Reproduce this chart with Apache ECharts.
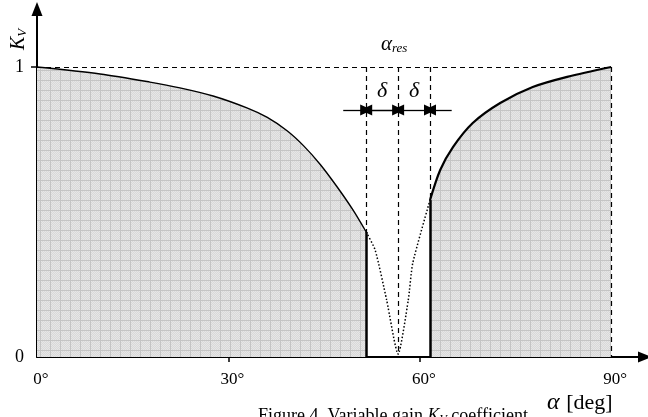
<!DOCTYPE html>
<html>
<head>
<meta charset="utf-8">
<script src="https://cdn.jsdelivr.net/npm/echarts@6/dist/echarts.min.js"></script>
<style>
  html, body { margin: 0; padding: 0; background: #fff; }
  #chart { width: 648px; height: 417px; }
</style>
</head>
<body>
<div id="chart"></div>
<script>
// values (alpha in degrees, Kv normalised)
const alphaRes = 56.6;
const delta = 5;
const inductiveCurve = [
  [0, 1.0], [9.9, 0.976], [17.7, 0.948], [22.4, 0.928], [27.6, 0.900],
  [32.9, 0.859], [36.1, 0.826], [39.2, 0.780], [41.8, 0.728], [44.4, 0.664],
  [47.0, 0.588], [49.5, 0.508], [51.6, 0.431]
];
const capacitiveCurve = [
  [61.6, 0.541], [63.2, 0.645], [65.2, 0.724], [68.3, 0.807],
  [72.6, 0.876], [77.7, 0.931], [83.1, 0.966], [90, 1.0]
];
const resonanceDip = [
  [51.6, 0.431], [53.0, 0.369], [54.8, 0.197], [56.6, 0.01],
  [58.2, 0.197], [58.9, 0.324], [61.6, 0.541]
];
const xTicks = [0, 30, 60, 90];
const yTicks = [0, 1];
const arrowLevel = 0.852;

// grey hatched fill like the printed figure
function makePattern() {
  const c = document.createElement("canvas");
  c.width = 10; c.height = 10;
  const g = c.getContext("2d");
  g.fillStyle = "#d9d9d9";
  g.fillRect(0, 0, 10, 10);
  g.fillStyle = "#e6e6e6";
  for (let i = 1; i < 10; i++) {
    for (let j = 1; j < 10; j++) {
      if ((i + j) % 2 === 0) g.fillRect(i, j, 1, 1);
    }
  }
  g.fillStyle = "#c4c4c4";
  g.fillRect(0, 0, 10, 1);
  g.fillRect(0, 0, 1, 10);
  return c;
}
const pattern = { image: makePattern(), repeat: "repeat" };

const serif = "Liberation Serif";
const dash = { color: "#000", width: 1.2, type: [5, 4] };
const lo = alphaRes - delta, hi = alphaRes + delta;
const kLo = inductiveCurve[inductiveCurve.length - 1][1];
const kHi = capacitiveCurve[0][1];

const chart = echarts.init(document.getElementById("chart"));
chart.setOption({
  animation: false,
  grid: { left: 37, top: 9, width: 608, height: 348 },
  xAxis: {
    type: "value",
    min: 0,
    max: 95.3,
    splitLine: { show: false },
    axisLine: { lineStyle: { color: "#000", width: 2 }, symbol: ["none", "triangle"], symbolSize: [11, 14] },
    axisTick: { customValues: [30, 60], length: 5, lineStyle: { color: "#000", width: 1.5 } },
    axisLabel: {
      customValues: xTicks,
      formatter: "{value}°",
      color: "#000",
      fontFamily: serif,
      fontSize: 17,
      margin: 14,
      padding: [0, 0, 0, 8]
    }
  },
  yAxis: {
    type: "value",
    min: 0,
    max: 1.2,
    splitLine: { show: false },
    axisLine: { lineStyle: { color: "#000", width: 2 }, symbol: ["none", "triangle"], symbolSize: [11, 14] },
    axisTick: { customValues: [1], length: 6, lineStyle: { color: "#000", width: 1.5 } },
    axisLabel: {
      customValues: yTicks,
      color: "#000",
      fontFamily: serif,
      fontSize: 18,
      margin: 13
    }
  },
  series: [
    {
      name: "inductive",
      type: "line",
      data: inductiveCurve,
      symbol: "none",
      smooth: 0.3,
      z: 3,
      lineStyle: { color: "#000", width: 1.4 },
      areaStyle: { color: pattern, opacity: 1 },
      markLine: {
        silent: true,
        symbol: "none",
        label: { show: false },
        lineStyle: { color: "#000", width: 2.5, type: "solid" },
        data: [
          [{ coord: [lo, kLo] }, { coord: [lo, 0] }],
          [{ coord: [hi, kHi] }, { coord: [hi, 0] }]
        ]
      }
    },
    {
      name: "capacitive",
      type: "line",
      data: capacitiveCurve,
      symbol: "none",
      smooth: 0.3,
      z: 3,
      lineStyle: { color: "#000", width: 2.2 },
      areaStyle: { color: pattern, opacity: 1 }
    },
    {
      name: "dip",
      type: "line",
      data: resonanceDip,
      symbol: "none",
      smooth: 0.2,
      z: 4,
      lineStyle: { color: "#000", width: 1.5, type: [1.5, 2] },
      markLine: {
        silent: true,
        symbol: "none",
        label: { show: false },
        lineStyle: dash,
        data: [
          [{ coord: [0, 1] }, { coord: [90, 1] }],
          [{ coord: [lo, 1] }, { coord: [lo, kLo] }],
          [{ coord: [alphaRes, 1] }, { coord: [alphaRes, 0.01] }],
          [{ coord: [hi, 1] }, { coord: [hi, kHi] }],
          [{ coord: [90, 1] }, { coord: [90, 0] }]
        ]
      }
    },
    {
      name: "arrows",
      type: "line",
      data: [],
      markLine: {
        silent: true,
        symbol: ["triangle", "triangle"],
        symbolSize: [11, 12],
        label: { show: false },
        lineStyle: { color: "#000", width: 1.3, type: "solid" },
        data: [
          [{ coord: [48.0, arrowLevel], symbol: "none" }, { coord: [lo, arrowLevel] }],
          [{ coord: [lo, arrowLevel] }, { coord: [alphaRes, arrowLevel] }],
          [{ coord: [alphaRes, arrowLevel] }, { coord: [hi, arrowLevel] }],
          [{ coord: [hi, arrowLevel] }, { coord: [65.0, arrowLevel], symbol: "none" }]
        ]
      }
    }
  ],
  graphic: [
    { type: "text", rotation: Math.PI / 2, x: 8, y: 50, style: {
      text: "{k|K}{s|V}", rich: {
        k: { fontFamily: serif, fontStyle: "italic", fontSize: 20, fill: "#000" },
        s: { fontFamily: serif, fontStyle: "italic", fontSize: 13, fill: "#000", padding: [8, 0, 0, 0] }
      } } },
    { type: "text", x: 381, y: 33, style: {
      text: "{a|α}{s|res}", rich: {
        a: { fontFamily: serif, fontStyle: "italic", fontSize: 21, fill: "#000" },
        s: { fontFamily: serif, fontStyle: "italic", fontSize: 13, fill: "#000", padding: [9, 0, 0, 0] }
      } } },
    { type: "text", x: 382, y: 91, style: { text: "δ", fontFamily: serif, fontStyle: "italic", fontSize: 22, fill: "#000", align: "center", verticalAlign: "middle" } },
    { type: "text", x: 414, y: 91, style: { text: "δ", fontFamily: serif, fontStyle: "italic", fontSize: 22, fill: "#000", align: "center", verticalAlign: "middle" } },
    { type: "text", x: 173, y: 219, style: { text: "Inductive\nRegion", fontFamily: serif, fontStyle: "italic", fontSize: 21, lineHeight: 28, fill: "#000", align: "center", verticalAlign: "middle" } },
    { type: "text", x: 528, y: 219, style: { text: "Capacitive\nRegion", fontFamily: serif, fontStyle: "italic", fontSize: 21, lineHeight: 28, fill: "#000", align: "center", verticalAlign: "middle" } },
    { type: "text", x: 547, y: 391, style: {
      text: "{a|α}  {d|[deg]}", rich: {
        a: { fontFamily: serif, fontStyle: "italic", fontSize: 24, fill: "#000" },
        d: { fontFamily: serif, fontSize: 22, fill: "#000" }
      } } },
    { type: "text", x: 258, y: 407, style: {
      text: "{t|Figure 4. Variable gain }{k|K}{s|V}{t| coefficient}", rich: {
        t: { fontFamily: serif, fontSize: 18, fill: "#000" },
        k: { fontFamily: serif, fontStyle: "italic", fontSize: 18, fill: "#000" },
        s: { fontFamily: serif, fontStyle: "italic", fontSize: 12, fill: "#000", padding: [7, 0, 0, 0] }
      } } }
  ]
});
</script>
</body>
</html>
